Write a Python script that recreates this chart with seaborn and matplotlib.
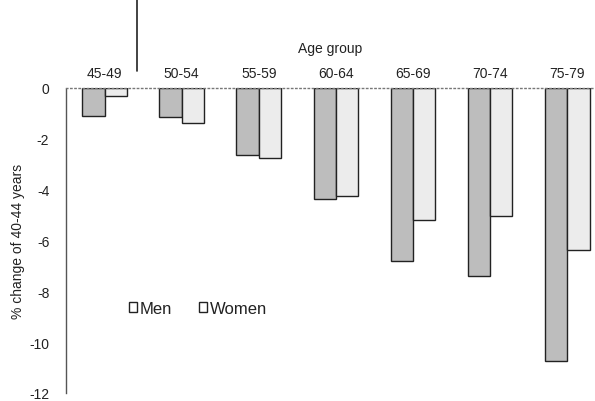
import matplotlib
matplotlib.use("Agg")
import matplotlib.pyplot as plt
import seaborn as sns
import pandas as pd
from matplotlib.patches import Patch
from matplotlib.lines import Line2D

age_groups = ["45-49", "50-54", "55-59", "60-64", "65-69", "70-74", "75-79"]
men = [-1.1, -1.13, -2.64, -4.36, -6.82, -7.4, -10.75]
women = [-0.3, -1.36, -2.76, -4.25, -5.2, -5.05, -6.38]
series = ["Men", "Women"]
y_ticks = [0, -2, -4, -6, -8, -10, -12]

df = pd.DataFrame({
    "Age group": age_groups * 2,
    "value": men + women,
    "sex": ["Men"] * len(age_groups) + ["Women"] * len(age_groups),
})

sns.set_style("white")
plt.rcParams["font.family"] = ["Liberation Sans", "DejaVu Sans"]

fig = plt.figure(figsize=(5.95, 4.02), dpi=100)
ax = fig.add_axes([66 / 595, 1 - 394 / 402, 1 - 66 / 595, (394 - 89) / 402])

colors = {"Men": "#bdbdbd", "Women": "#ececec"}
sns.barplot(data=df, x="Age group", y="value", hue="sex", hue_order=series,
            order=age_groups, palette=colors, width=0.58, edgecolor="#222222",
            linewidth=1.0, ax=ax, legend=False, saturation=1)

ax.set_ylim(-12, 0)
ax.set_xlim(-0.5, 6.36)
ax.set_yticks(y_ticks)
ax.set_yticklabels([str(t) for t in y_ticks], fontsize=10, color="#222222")
ax.xaxis.tick_top()
ax.xaxis.set_label_position("top")
ax.set_xticks(range(len(age_groups)))
ax.set_xticklabels(age_groups, fontsize=10, color="#222222")
ax.tick_params(axis="x", length=0, pad=6)
ax.tick_params(axis="y", length=3, width=0.6, color="#666666", pad=12, direction="in")
ax.set_xlabel("Age group", fontsize=10, color="#222222", labelpad=10)
ax.set_ylabel("% change of 40-44 years", fontsize=10, color="#222222", labelpad=3)

for s in ["right", "bottom"]:
    ax.spines[s].set_visible(False)
ax.spines["left"].set_linestyle((0, (1, 1)))
ax.spines["left"].set_color("#555555")
ax.spines["left"].set_linewidth(1.0)
ax.spines["top"].set_linestyle((0, (1, 2)))
ax.spines["top"].set_color("#777777")
ax.spines["top"].set_linewidth(1.0)

handles = [Patch(facecolor="white", edgecolor="#222222", linewidth=1.0, label=s) for s in series]
ax.legend(handles=handles, labels=series, ncol=2, frameon=False, loc="center left",
          bbox_to_anchor=(0.103, 0.278), borderpad=0, handlelength=0.5, handleheight=0.5,
          handletextpad=0.15, columnspacing=1.6, fontsize=12, labelcolor="#222222")

# scan artifact line at the top
fig.add_artist(Line2D([137 / 595, 137 / 595], [1.0, 1 - 72 / 402], color="#222222", linewidth=1.2))

fig.savefig("out.png", dpi=100)
